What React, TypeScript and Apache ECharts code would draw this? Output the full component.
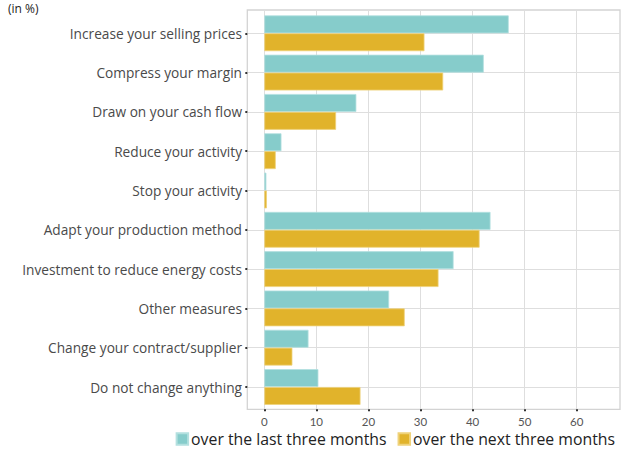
import React, { useEffect, useRef } from "react";
import * as echarts from "echarts";

const categories = [
  "Increase your selling prices",
  "Compress your margin",
  "Draw on your cash flow",
  "Reduce your activity",
  "Stop your activity",
  "Adapt your production method",
  "Investment to reduce energy costs",
  "Other measures",
  "Change your contract/supplier",
  "Do not change anything",
];
const lastThreeMonths = [47.0, 42.2, 17.7, 3.3, 0.4, 43.5, 36.4, 24.0, 8.5, 10.4];
const nextThreeMonths = [30.8, 34.4, 13.8, 2.2, 0.5, 41.4, 33.5, 27.0, 5.4, 18.5];
const seriesNames = ["over the last three months", "over the next three months"];
const xTicks = { min: 0, max: 60, interval: 10 };
const xExtent = { min: -3.27, max: 68.4 };

const FONT = "'Open Sans', Lato, sans-serif";
const TICK_FONT = "Lato, 'Open Sans', sans-serif";

export default function App() {
  const ref = useRef<HTMLDivElement>(null);
  useEffect(() => {
    if (!ref.current) return;
    const chart = echarts.init(ref.current, null, { renderer: "svg" });
    chart.setOption({
      animation: false,
      textStyle: { fontFamily: FONT },
      graphic: [
        {
          type: "text",
          left: 8,
          top: 2,
          style: { text: "(in %)", font: `12px ${FONT}`, fill: "#222" },
        },
      ],
      legend: {
        data: seriesNames,
        right: 13,
        top: 426,
        icon: "rect",
        itemWidth: 11.5,
        itemHeight: 11.5,
        itemGap: 11,
        textStyle: { fontSize: 15.8, lineHeight: 16, color: "#222", fontFamily: FONT, padding: [0, 0, 0, -2] },
      },
      grid: [
        { left: 247.3, right: 13, top: 10, bottom: 40.7, show: true, borderColor: "#d3d3d3", borderWidth: 1.3, backgroundColor: "transparent" },
        { left: 264.3, right: 56.3, top: 10, bottom: 40.7 },
        { left: 247.3, right: 13, top: 33.3, bottom: 63 },
        { left: 247.3, right: 13, top: 13.65, bottom: 43.35 },
      ],
      xAxis: [
        { gridIndex: 0, type: "value", show: false, min: 0, max: 1 },
        {
          gridIndex: 1,
          type: "value",
          min: xTicks.min,
          max: xTicks.max,
          interval: xTicks.interval,
          offset: 2,
          axisLine: { show: false },
          axisTick: { show: true, length: 2, lineStyle: { color: "#333", width: 2 } },
          axisLabel: { fontSize: 11.5, lineHeight: 12, color: "#555", margin: 4, fontFamily: TICK_FONT },
          splitLine: { show: true, lineStyle: { color: "#dedede", width: 1 } },
        },
        { gridIndex: 2, type: "value", show: false, min: 0, max: 1 },
        { gridIndex: 3, type: "value", show: false, min: xExtent.min, max: xExtent.max },
      ],
      yAxis: [
        { gridIndex: 0, type: "value", show: false, min: 0, max: 1 },
        { gridIndex: 1, type: "value", show: false, min: 0, max: 1, splitLine: { show: false } },
        {
          gridIndex: 2,
          type: "category",
          data: categories,
          inverse: true,
          boundaryGap: false,
          offset: 1.3,
          axisLine: { show: false },
          axisTick: { show: true, length: 2, lineStyle: { color: "#333", width: 2 } },
          axisLabel: { fontSize: 13.7, color: "#4a4a4a", margin: 4, fontFamily: FONT, interval: 0 },
          splitLine: { show: true, interval: 0, lineStyle: { color: "#dedede", width: 1 } },
        },
        { gridIndex: 3, type: "category", data: categories, inverse: true, show: false },
      ],
      series: [
        {
          name: seriesNames[0],
          type: "bar",
          xAxisIndex: 3,
          yAxisIndex: 3,
          data: lastThreeMonths,
          barGap: "0%",
          barCategoryGap: "9%",
          itemStyle: { color: "#86cccb", borderColor: "#b3e0df", borderWidth: 0.8 },
        },
        {
          name: seriesNames[1],
          type: "bar",
          xAxisIndex: 3,
          yAxisIndex: 3,
          data: nextThreeMonths,
          barGap: "0%",
          barCategoryGap: "9%",
          itemStyle: { color: "#e1b32b", borderColor: "#efd27a", borderWidth: 0.8 },
        },
      ],
    });
    return () => chart.dispose();
  }, []);
  return <div ref={ref} style={{ width: 633, height: 450, position: "absolute", left: 0, top: 0 }} />;
}
